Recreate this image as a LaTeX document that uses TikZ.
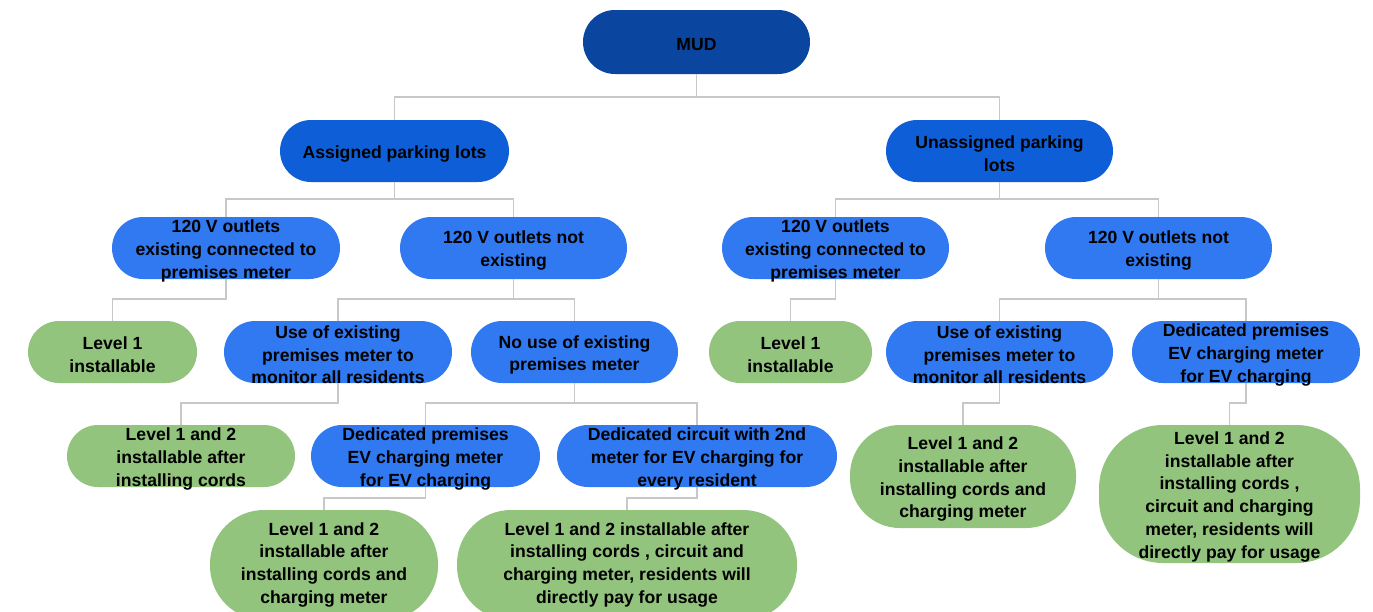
\documentclass[tikz,border=0pt]{standalone}
\usepackage{fontspec}
\setmainfont{Liberation Sans}
\definecolor{mudc}{HTML}{0A45A0}
\definecolor{lvtwo}{HTML}{0E5ED8}
\definecolor{lvthree}{HTML}{3079F0}
\definecolor{grn}{HTML}{93C47D}
\definecolor{conc}{HTML}{C8C8C8}
\tikzset{
  bx/.style={draw=none, inner sep=0pt, outer sep=0pt, rectangle},
  txt/.style={inner sep=0pt, align=center, text=black, yshift=-2.8pt, font=\bfseries\fontsize{17.6}{22.7}\selectfont},
  conn/.style={draw=conc, line width=1.5pt},
}
\begin{document}
\begin{tikzpicture}[x=1pt,y=-1pt]
\useasboundingbox[fill=white] (0,0) rectangle (1373,611);
% boxes
\node[bx, fill=mudc, minimum width=227, minimum height=64, rounded corners=32] (mud) at (696.5,42) {};
\node[bx, fill=lvtwo, minimum width=229, minimum height=62, rounded corners=31] (asg) at (394.5,151) {};
\node[bx, fill=lvtwo, minimum width=227, minimum height=62, rounded corners=31] (una) at (999.5,151) {};
\node[bx, fill=lvthree, minimum width=228, minimum height=62, rounded corners=31] (a1) at (226,248) {};
\node[bx, fill=lvthree, minimum width=227, minimum height=62, rounded corners=31] (a2) at (513.5,248) {};
\node[bx, fill=lvthree, minimum width=227, minimum height=62, rounded corners=31] (u1) at (835.5,248) {};
\node[bx, fill=lvthree, minimum width=227, minimum height=62, rounded corners=31] (u2) at (1158.5,248) {};
\node[bx, fill=grn, minimum width=169, minimum height=62, rounded corners=31] (lva) at (112.5,352) {};
\node[bx, fill=lvthree, minimum width=228, minimum height=62, rounded corners=31] (usea) at (338,352) {};
\node[bx, fill=lvthree, minimum width=207, minimum height=62, rounded corners=31] (nouse) at (574.5,352) {};
\node[bx, fill=grn, minimum width=163, minimum height=62, rounded corners=31] (lvb) at (790.5,352) {};
\node[bx, fill=lvthree, minimum width=227, minimum height=62, rounded corners=31] (useb) at (999.5,352) {};
\node[bx, fill=lvthree, minimum width=228, minimum height=62, rounded corners=31] (dedr) at (1246,352) {};
\node[bx, fill=grn, minimum width=228, minimum height=62, rounded corners=31] (cords) at (181,456) {};
\node[bx, fill=lvthree, minimum width=229, minimum height=62, rounded corners=31] (dedp) at (425.5,456) {};
\node[bx, fill=lvthree, minimum width=280, minimum height=62, rounded corners=31] (dedc) at (697,456) {};
\node[bx, fill=grn, minimum width=226, minimum height=103, rounded corners=50] (gra) at (963,476.5) {};
\node[bx, fill=grn, minimum width=261, minimum height=138, rounded corners=64] (grb) at (1229.5,494) {};
\node[bx, fill=grn, minimum width=228, minimum height=110, rounded corners=54] (gba) at (324,565) {};
\node[bx, fill=grn, minimum width=340, minimum height=110, rounded corners=54] (gbb) at (627,565) {};
% connectors
\draw[conn] (mud.south) -- ++(0,23) -| (asg.north);
\draw[conn] (mud.south) -- ++(0,23) -| (una.north);
\draw[conn] (asg.south) -- ++(0,17) -| (a1.north);
\draw[conn] (asg.south) -- ++(0,17) -| (a2.north);
\draw[conn] (una.south) -- ++(0,17) -| (u1.north);
\draw[conn] (una.south) -- ++(0,17) -| (u2.north);
\draw[conn] (a1.south) -- ++(0,20) -| (lva.north);
\draw[conn] (a2.south) -- ++(0,20) -| (usea.north);
\draw[conn] (a2.south) -- ++(0,20) -| (nouse.north);
\draw[conn] (u1.south) -- ++(0,20) -| (lvb.north);
\draw[conn] (u2.south) -- ++(0,20) -| (useb.north);
\draw[conn] (u2.south) -- ++(0,20) -| (dedr.north);
\draw[conn] (usea.south) -- ++(0,20) -| (cords.north);
\draw[conn] (nouse.south) -- ++(0,20) -| (dedp.north);
\draw[conn] (nouse.south) -- ++(0,20) -| (dedc.north);
\draw[conn] (useb.south) -- ++(0,20) -| (gra.north);
\draw[conn] (dedr.south) -- ++(0,20) -| (grb.north);
\draw[conn] (dedp.south) -- ++(0,11) -| (gba.north);
\draw[conn] (dedc.south) -- ++(0,11) -| (gbb.north);
% texts
\node[txt] (mud-t) at (mud) {MUD};
\node[txt] (asg-t) at (asg) {Assigned parking lots};
\node[txt] (una-t) at (una) {Unassigned parking\\lots};
\node[txt] (a1-t) at (a1) {120 V outlets\\existing connected to\\premises meter};
\node[txt] (a2-t) at (a2) {120 V outlets not\\existing};
\node[txt] (u1-t) at (u1) {120 V outlets\\existing connected to\\premises meter};
\node[txt] (u2-t) at (u2) {120 V outlets not\\existing};
\node[txt] (lva-t) at (lva) {Level 1\\installable};
\node[txt] (usea-t) at (usea) {Use of existing\\premises meter to\\monitor all residents};
\node[txt] (nouse-t) at (nouse) {No use of existing\\premises meter};
\node[txt] (lvb-t) at (lvb) {Level 1\\installable};
\node[txt] (useb-t) at (useb) {Use of existing\\premises meter to\\monitor all residents};
\node[txt] (dedr-t) at (dedr) {Dedicated premises\\EV charging meter\\for EV charging};
\node[txt] (cords-t) at (cords) {Level 1 and 2\\installable after\\installing cords};
\node[txt] (dedp-t) at (dedp) {Dedicated premises\\EV charging meter\\for EV charging};
\node[txt] (dedc-t) at (dedc) {Dedicated circuit with 2nd\\meter for EV charging for\\every resident};
\node[txt] (gra-t) at (gra) {Level 1 and 2\\installable after\\installing cords and\\charging meter};
\node[txt] (grb-t) at (grb) {Level 1 and 2\\installable after\\installing cords ,\\circuit and charging\\meter, residents will\\directly pay for usage};
\node[txt] (gba-t) at (324,562) {Level 1 and 2\\installable after\\installing cords and\\charging meter};
\node[txt] (gbb-t) at (627,562) {Level 1 and 2 installable after\\installing cords , circuit and\\charging meter, residents will\\directly pay for usage};
\end{tikzpicture}
\end{document}
